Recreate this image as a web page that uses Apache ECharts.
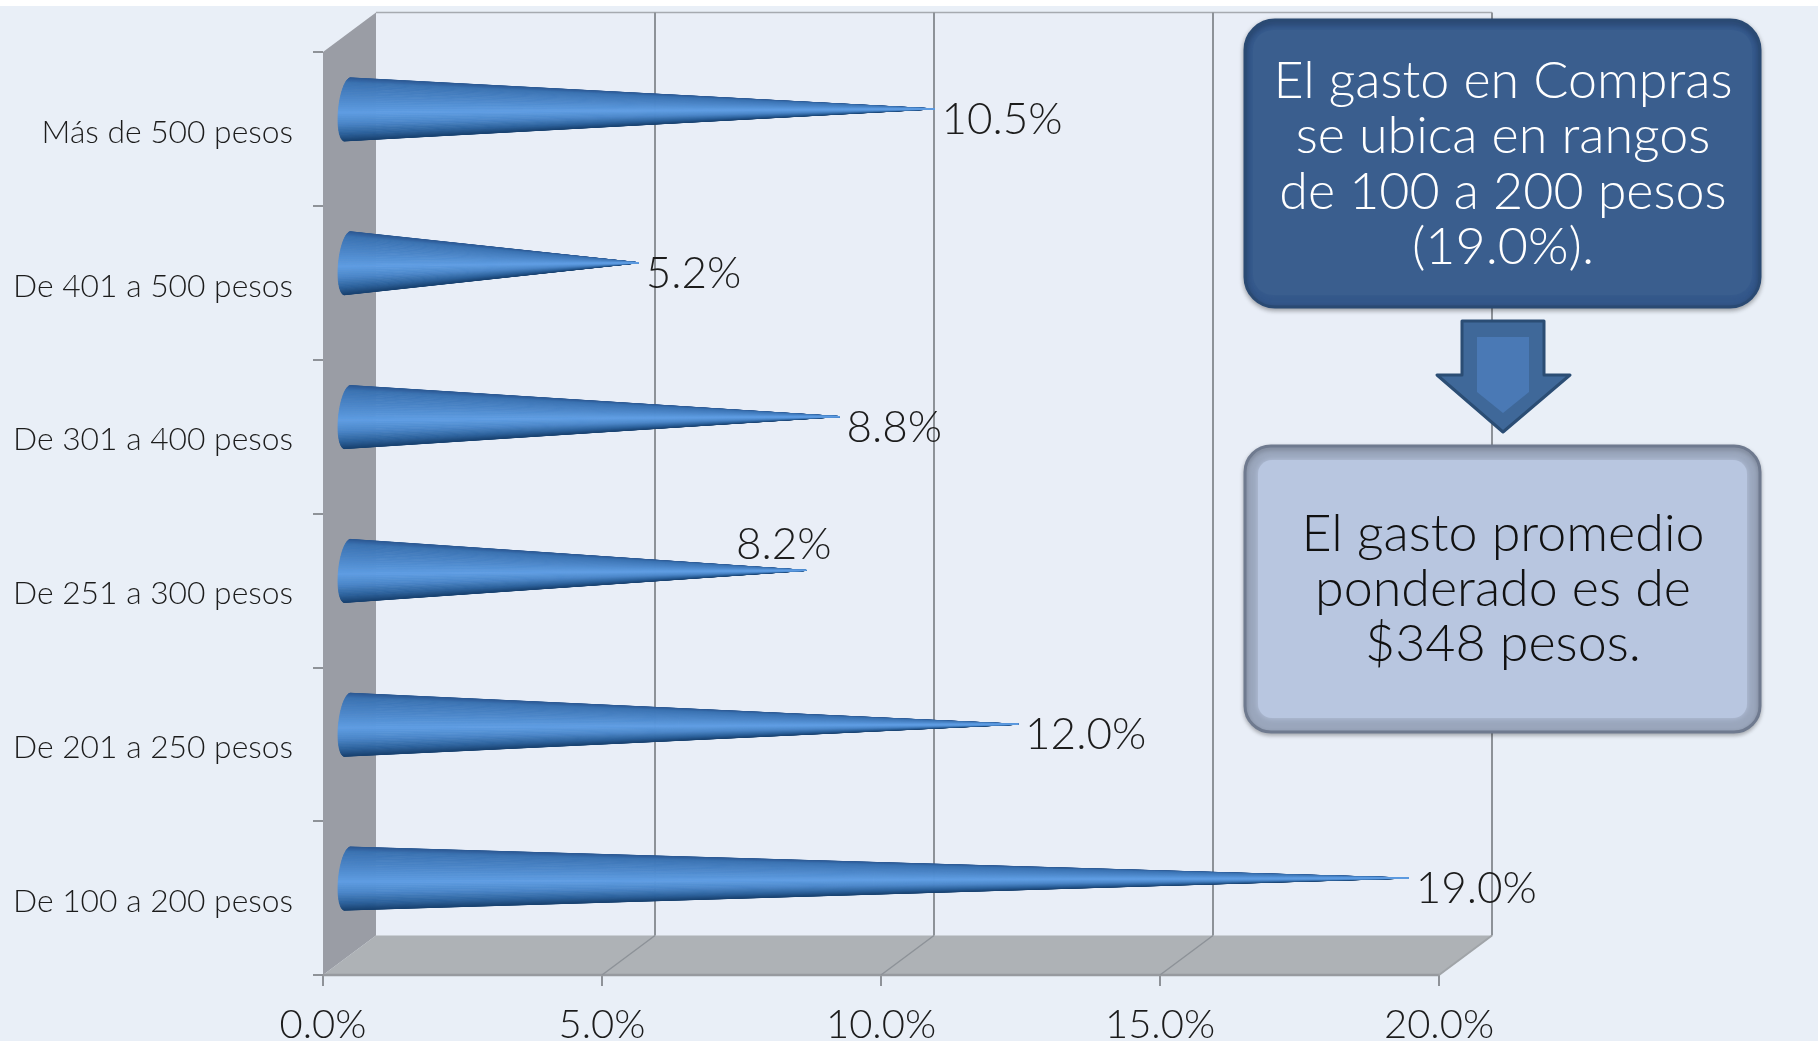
<!DOCTYPE html>
<html><head><meta charset="utf-8">
<style>html,body{margin:0;padding:0;background:#E9EFF7}#c{width:1818px;height:1041px}</style>
<script src="https://cdn.jsdelivr.net/npm/echarts@6/dist/echarts.min.js"></script>
</head><body><div id="c"></div>
<script>
const categories = ['De 100 a 200 pesos','De 201 a 250 pesos','De 251 a 300 pesos','De 301 a 400 pesos','De 401 a 500 pesos','Más de 500 pesos'];
const values = [19.0, 12.0, 8.2, 8.8, 5.2, 10.5];
const xTicks = [0, 5, 10, 15, 20];
const topBoxLines = ['El gasto en Compras','se ubica en rangos','de 100 a 200 pesos','(19.0%).'];
const bottomBoxLines = ['El gasto promedio','ponderado es de','$348 pesos.'];

const FONT = 'Lato, "Open Sans", sans-serif';
const DEPTH = [53, -39.5];
const MID = [25.5, -20];
const coneStops = [[0,[44,88,146]],[0.08,[58,114,178]],[0.4,[82,142,210]],[0.55,[94,156,226]],[0.72,[74,134,200]],[0.88,[44,98,156]],[1,[24,64,110]]];
function coneColor(f){
  for(let i=1;i<coneStops.length;i++){
    if(f<=coneStops[i][0]){
      const a=coneStops[i-1],b=coneStops[i],k=(f-a[0])/(b[0]-a[0]);
      return 'rgb('+a[1].map((c,j)=>Math.round(c+(b[1][j]-c)*k)).join(',')+')';
    }
  }
  return 'rgb(24,64,110)';
}
function labelShift(v){ return v===8.2 ? [-70,-26] : [7,11]; }

const chart = echarts.init(document.getElementById('c'), null, {renderer:'canvas'});
chart.setOption({
  animation:false,
  backgroundColor:'#E9EFF7',
  grid:{left:323,top:52,width:1116,height:923,containLabel:false,outerBoundsMode:'none'},
  xAxis:{type:'value',min:0,max:20,interval:5,
    axisLine:{show:false},
    axisTick:{show:true,length:11,lineStyle:{color:'#8E9298',width:2}},
    splitLine:{show:false},
    axisLabel:{margin:30,color:'#1c1c1c',fontFamily:FONT,fontWeight:300,fontSize:40,formatter:v=>v.toFixed(1)+'%'}},
  yAxis:{type:'category',data:categories,boundaryGap:true,
    axisLine:{show:false},
    axisTick:{show:true,length:10,lineStyle:{color:'#8E9298',width:2}},
    splitLine:{show:false},
    axisLabel:{margin:30,formatter:v=>'{a|'+v+'}',
      rich:{a:{color:'#1c1c1c',fontFamily:FONT,fontWeight:300,fontSize:31.8,padding:[7,0,0,0]}}}},
  graphic:[
    {type:'rect',z:50,silent:true,shape:{x:0,y:0,width:1818,height:6},style:{fill:'#fff'}},
    {type:'rect',z:50,silent:true,shape:{x:1245,y:20,width:515,height:287,r:30},style:{fill:'#33578A',stroke:'#2A4A73',lineWidth:3,shadowBlur:5,shadowColor:'rgba(0,0,0,.3)',shadowOffsetY:2}},
    {type:'rect',z:51,silent:true,shape:{x:1253,y:30,width:499,height:265,r:20},style:{fill:'#3A5E8E',shadowBlur:5,shadowColor:'#3A5E8E'}},
    {type:'text',z:52,silent:true,style:{text:topBoxLines.join('\n'),x:1503,y:164,align:'center',verticalAlign:'middle',lineHeight:55.5,fill:'#fff',font:'300 52px '+FONT}},
    {type:'polygon',z:50,silent:true,shape:{points:[[1462,321],[1544,321],[1544,375],[1570,375],[1503,432],[1437,375],[1462,375]]},style:{fill:'#3F6899',stroke:'#2B4D74',lineWidth:3,lineJoin:'round'}},
    {type:'polygon',z:51,silent:true,shape:{points:[[1477,337],[1529,337],[1529,392],[1503,413],[1477,392]]},style:{fill:'#4A79B5'}},
    {type:'rect',z:50,silent:true,shape:{x:1245,y:446,width:515,height:286,r:26},style:{fill:'#9AA6BC',stroke:'#6F7A8F',lineWidth:3,shadowBlur:4,shadowColor:'rgba(0,0,0,.25)',shadowOffsetY:2}},
    {type:'rect',z:51,silent:true,shape:{x:1258,y:460,width:489,height:258,r:14},style:{fill:'#B8C6E0',shadowBlur:6,shadowColor:'#B8C6E0'}},
    {type:'text',z:52,silent:true,style:{text:bottomBoxLines.join('\n'),x:1503,y:589,align:'center',verticalAlign:'middle',lineHeight:55,fill:'#111',font:'300 52px '+FONT}}
  ],
  series:[
    {type:'custom',z:1,silent:true,data:[[0,0]],
     encode:{x:0,y:1},
     renderItem(params,api){
       const band=api.size([0,1])[1];
       const p0=api.coord([0,0]),p5=api.coord([20,5]);
       const tl=[p0[0],p5[1]-band/2],tr=[p5[0],p5[1]-band/2],bl=[p0[0],p0[1]+band/2],br=[p5[0],p0[1]+band/2];
       const sh=(p)=>[p[0]+DEPTH[0],p[1]+DEPTH[1]];
       return {type:'group',children:[
         {type:'polygon',shape:{points:[sh(tl),sh(tr),sh(br),sh(bl)]},style:{fill:'#E9EEF7'}},
         {type:'line',shape:{x1:sh(tl)[0],y1:sh(tl)[1],x2:sh(tr)[0],y2:sh(tr)[1]},style:{stroke:'#A6AAB0',lineWidth:1.5}},
         {type:'polygon',shape:{points:[tl,sh(tl),sh(bl),bl]},style:{fill:'#9A9DA5'}},
         {type:'polygon',shape:{points:[bl,br,sh(br),sh(bl)]},style:{fill:'#AEB2B6'}},
         {type:'line',shape:{x1:bl[0],y1:bl[1],x2:br[0],y2:br[1]},style:{stroke:'#979A9F',lineWidth:2.5}},
         {type:'line',shape:{x1:br[0],y1:br[1],x2:sh(br)[0],y2:sh(br)[1]},style:{stroke:'#A0A4A8',lineWidth:2}}
       ]};
     }},
    {type:'custom',z:2,silent:true,data:xTicks.map(t=>[t,0]),
     encode:{x:0,y:1},
     renderItem(params,api){
       const v=api.value(0);
       const band=api.size([0,1])[1];
       const yb=api.coord([v,0])[1]+band/2, yt=api.coord([v,5])[1]-band/2, x=api.coord([v,0])[0];
       const b=[x,yb],t=[x,yt];
       const s=[b[0]+DEPTH[0],b[1]+DEPTH[1]],e=[t[0]+DEPTH[0],t[1]+DEPTH[1]];
       const kids=[];
       if(v>0) kids.push({type:'line',shape:{x1:s[0],y1:s[1],x2:e[0],y2:e[1]},style:{stroke:'#8D9298',lineWidth:2}});
       if(v>0&&v<20) kids.push({type:'line',shape:{x1:b[0],y1:b[1],x2:s[0],y2:s[1]},style:{stroke:'#8D9298',lineWidth:1.5}});
       return {type:'group',children:kids};
     }},
    {type:'custom',z:5,silent:true,data:values.map((v,i)=>[v,i]),
     encode:{x:0,y:1},
     renderItem(params,api){
       const v=api.value(0),i=api.value(1);
       const t0=api.coord([v,i]),b0=api.coord([0,i]);
       const tip=[t0[0]+MID[0],t0[1]+MID[1]],c=[b0[0]+MID[0]-1,b0[1]+MID[1]+0.5];
       const N=48,kids=[];
       const pt=(a)=>[c[0]-9*Math.cos(a)+3*Math.sin(a),c[1]-31.5*Math.sin(a)];
       const strips=[];
       for(let k=0;k<N;k++){
         const a0=Math.PI/2-Math.PI*k/N,a1=Math.PI/2-Math.PI*(k+1)/N;
         const f=(1-Math.sin((a0+a1)/2))/2;
         strips.push({a0,a1,f});
       }
       strips.sort((p,q)=>Math.abs(q.f-0.55)-Math.abs(p.f-0.55));
       strips.forEach(s=>{
         const col=coneColor(s.f);
         kids.push({type:'polygon',shape:{points:[pt(s.a0),pt(s.a1),tip]},style:{fill:col,stroke:col,lineWidth:0.8}});
       });
       const s=labelShift(v);
       kids.push({type:'text',z2:10,style:{text:v.toFixed(1)+'%',x:tip[0]+s[0],y:tip[1]+s[1],align:'left',verticalAlign:'middle',fill:'#1c1c1c',font:'300 44px '+FONT}});
       return {type:'group',children:kids};
     }}
  ]
});
</script></body></html>
